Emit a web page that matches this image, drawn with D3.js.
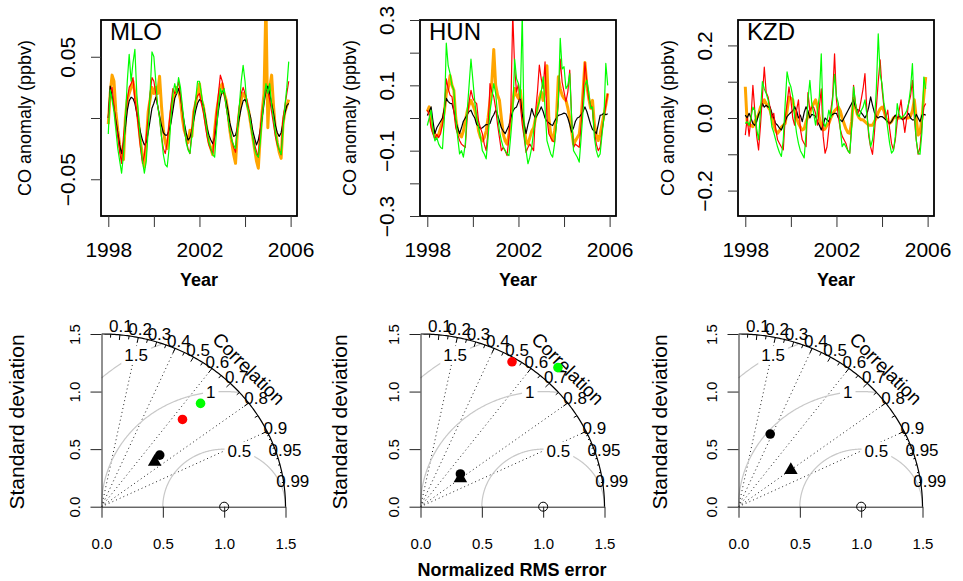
<!DOCTYPE html>
<html>
<head>
<meta charset="utf-8">
<script src="https://cdn.jsdelivr.net/npm/d3@7"></script>
<style>
body { margin: 0; background: #fff; }
</style>
</head>
<body>
<svg id="chart" width="963" height="581"></svg>
<script>
var FONT = "Liberation Sans, Arial, Helvetica, sans-serif"

// monthly CO anomalies, Jan 1998 .. Dec 2005 (black = obs, red / orange / green = models)
var mloBlack = [
    0.000, 0.026, 0.018, 0.008, -0.002, -0.012, -0.022, -0.029, -0.020, -0.008, 0.006, 0.014,
    0.017, 0.016, 0.012, 0.004, -0.004, -0.012, -0.018, -0.022, -0.020, -0.012, -0.002, 0.008,
    0.012, 0.017, 0.010, 0.002, -0.006, -0.012, -0.014, -0.014, -0.010, -0.004, 0.006, 0.016,
    0.020, 0.024, 0.018, 0.006, -0.004, -0.012, -0.018, -0.016, -0.010, -0.002, 0.006, 0.012,
    0.015, 0.014, 0.010, 0.002, -0.008, -0.014, -0.018, -0.021, -0.016, -0.006, 0.006, 0.016,
    0.022, 0.020, 0.014, 0.006, -0.004, -0.010, -0.015, -0.014, -0.008, 0.000, 0.008, 0.014,
    0.015, 0.012, 0.006, 0.000, -0.010, -0.016, -0.022, -0.018, -0.010, 0.000, 0.012, 0.022,
    0.026, 0.020, 0.012, 0.004, -0.006, -0.012, -0.015, -0.012, -0.004, 0.004, 0.010, 0.012]
var mloRed = [
    0.000, 0.020, 0.025, 0.010, -0.005, -0.015, -0.028, -0.037, -0.015, 0.000, 0.015, 0.025,
    0.028, 0.033, 0.015, 0.005, -0.010, -0.025, -0.037, -0.030, -0.015, 0.000, 0.020, 0.033,
    0.030, 0.020, 0.010, 0.000, -0.015, -0.025, -0.029, -0.020, -0.005, 0.010, 0.024, 0.020,
    0.022, 0.030, 0.020, 0.005, -0.010, -0.018, -0.025, -0.029, -0.010, 0.005, 0.015, 0.018,
    0.020, 0.012, 0.005, -0.005, -0.015, -0.022, -0.026, -0.029, -0.012, 0.005, 0.020, 0.035,
    0.030, 0.020, 0.010, 0.000, -0.010, -0.018, -0.024, -0.028, -0.005, 0.010, 0.020, 0.025,
    0.020, 0.015, 0.005, -0.005, -0.015, -0.022, -0.027, -0.032, -0.010, 0.005, 0.015, 0.025,
    0.022, 0.015, 0.005, -0.005, -0.015, -0.022, -0.026, -0.030, 0.000, 0.010, 0.020, 0.030]
var mloOrange = [
    -0.005, 0.020, 0.035, 0.030, 0.005, -0.010, -0.022, -0.030, -0.034, 0.000, 0.015, 0.020,
    0.025, 0.030, 0.020, 0.010, -0.005, -0.020, -0.030, -0.040, -0.020, 0.005, 0.015, 0.025,
    0.020, 0.025, 0.020, 0.034, 0.010, -0.010, -0.020, -0.025, -0.010, 0.005, 0.015, 0.020,
    0.025, 0.022, 0.015, 0.000, -0.010, -0.015, -0.020, -0.010, -0.015, 0.005, 0.012, 0.020,
    0.028, 0.015, 0.010, 0.000, -0.010, -0.020, -0.025, -0.030, -0.010, 0.005, 0.015, 0.025,
    0.028, 0.020, 0.015, 0.005, -0.010, -0.020, -0.030, -0.037, -0.010, 0.005, 0.015, 0.020,
    0.018, 0.012, 0.005, -0.005, -0.015, -0.025, -0.035, -0.041, -0.015, 0.005, 0.020, 0.095,
    -0.008, 0.025, 0.035, 0.010, -0.010, -0.020, -0.028, -0.033, -0.005, 0.005, 0.010, 0.015]
var mloGreen = [
    -0.013, 0.023, 0.015, 0.005, -0.010, -0.025, -0.035, -0.045, -0.030, 0.000, 0.030, 0.052,
    0.030, 0.045, 0.056, 0.020, 0.000, -0.020, -0.035, -0.045, -0.035, -0.010, 0.020, 0.054,
    0.050, 0.030, 0.010, 0.000, -0.015, -0.030, -0.038, -0.040, -0.025, 0.000, 0.020, 0.028,
    0.020, 0.033, 0.025, 0.010, -0.005, -0.020, -0.026, -0.029, -0.015, 0.000, 0.015, 0.030,
    0.030, 0.020, 0.010, 0.000, -0.010, -0.020, -0.025, -0.030, -0.032, -0.010, 0.010, 0.024,
    0.020, 0.024, 0.010, 0.000, -0.010, -0.018, -0.022, -0.025, -0.010, 0.010, 0.030, 0.043,
    0.030, 0.010, 0.005, -0.005, -0.015, -0.025, -0.030, -0.032, -0.020, 0.000, 0.015, 0.028,
    0.020, 0.028, 0.010, 0.000, -0.012, -0.020, -0.026, -0.030, -0.010, 0.010, 0.025, 0.046]

var hunBlack = [
    0.008, 0.020, 0.034, -0.010, -0.048, -0.030, -0.020, -0.010, 0.000, 0.030, 0.060, 0.050,
    0.045, 0.044, 0.020, -0.010, -0.030, -0.048, -0.030, -0.010, 0.000, 0.010, 0.020, 0.024,
    0.010, 0.000, -0.020, -0.025, -0.033, -0.030, -0.025, -0.020, -0.020, -0.017, 0.000, 0.010,
    0.024, 0.010, -0.010, -0.030, -0.040, -0.048, -0.035, -0.023, 0.000, 0.020, 0.030, 0.034,
    0.050, 0.065, 0.010, -0.020, -0.048, -0.020, 0.000, 0.029, 0.010, 0.000, 0.010, 0.020,
    0.034, 0.020, 0.000, -0.010, -0.015, -0.020, -0.023, -0.010, 0.000, 0.008, 0.010, 0.012,
    0.015, 0.013, 0.000, -0.020, -0.043, -0.030, -0.010, 0.000, 0.003, 0.010, 0.020, 0.034,
    0.020, 0.000, -0.020, -0.035, -0.040, -0.048, -0.020, 0.008, 0.010, 0.015, 0.010, 0.013]
var hunRed = [
    0.024, 0.010, -0.030, -0.050, -0.064, -0.050, -0.060, -0.048, -0.020, 0.020, 0.120, 0.090,
    0.070, 0.065, 0.020, -0.030, -0.050, -0.069, -0.080, -0.085, -0.090, 0.000, 0.050, 0.085,
    0.060, 0.050, 0.044, -0.010, -0.030, -0.048, -0.080, -0.100, -0.040, 0.105, 0.080, 0.065,
    0.030, -0.020, -0.060, -0.100, -0.090, -0.100, -0.115, -0.060, 0.030, 0.320, 0.150, 0.080,
    0.105, 0.040, -0.020, -0.060, -0.105, -0.090, -0.080, -0.090, -0.100, 0.020, 0.080, 0.162,
    0.120, 0.090, 0.172, 0.000, -0.048, -0.060, -0.070, -0.074, -0.020, 0.050, 0.180, 0.110,
    0.080, 0.050, 0.080, 0.147, 0.000, -0.090, -0.080, -0.085, -0.090, -0.020, 0.060, 0.170,
    0.110, 0.060, 0.040, 0.024, -0.040, -0.080, -0.100, -0.090, -0.040, 0.000, 0.040, 0.075]
var hunOrange = [
    0.020, 0.034, -0.010, -0.040, -0.050, -0.058, -0.050, -0.030, -0.010, 0.020, 0.075, 0.090,
    0.130, 0.100, 0.085, 0.000, -0.040, -0.050, -0.058, -0.040, -0.010, 0.020, 0.040, 0.054,
    0.040, 0.024, 0.000, -0.040, -0.060, -0.070, -0.060, -0.040, 0.000, 0.050, 0.110, 0.210,
    0.100, 0.070, 0.054, 0.000, -0.050, -0.070, -0.080, -0.050, 0.000, 0.050, 0.090, 0.070,
    0.060, 0.085, 0.020, -0.030, -0.070, -0.080, -0.060, -0.040, -0.030, 0.000, 0.030, 0.060,
    0.080, 0.054, 0.080, 0.160, 0.000, -0.050, -0.069, -0.040, 0.000, 0.126, 0.090, 0.070,
    0.060, 0.054, 0.030, 0.000, -0.040, -0.080, -0.070, -0.060, -0.050, 0.000, 0.080, 0.170,
    0.100, 0.060, 0.030, 0.054, -0.020, -0.050, -0.069, -0.050, -0.020, 0.010, 0.040, 0.075]
var hunGreen = [
    -0.023, 0.000, 0.024, -0.040, -0.070, -0.060, -0.080, -0.090, -0.094, 0.000, 0.229, 0.160,
    0.136, 0.100, 0.085, 0.000, -0.060, -0.110, -0.100, -0.120, -0.080, 0.020, 0.100, 0.180,
    0.116, 0.050, 0.000, -0.028, -0.060, -0.100, -0.110, -0.125, -0.060, 0.020, 0.060, 0.105,
    0.075, 0.010, -0.040, -0.069, -0.090, -0.100, -0.110, -0.115, -0.050, 0.020, 0.180, 0.120,
    0.105, 0.060, 0.320, -0.050, -0.100, -0.140, -0.120, -0.090, -0.040, 0.000, 0.030, 0.050,
    0.080, 0.126, 0.030, -0.069, -0.090, -0.110, -0.120, -0.080, -0.020, 0.050, 0.244, 0.150,
    0.157, 0.090, 0.100, 0.136, 0.000, -0.100, -0.110, -0.120, -0.135, -0.060, 0.020, 0.100,
    0.116, 0.080, 0.030, 0.034, -0.060, -0.100, -0.120, -0.110, -0.050, 0.000, 0.167, 0.100]

var kzdBlack = [
    0.008, 0.000, 0.013, 0.000, -0.015, -0.020, -0.010, 0.010, 0.020, 0.040, 0.030, 0.035,
    0.030, 0.031, 0.013, 0.000, -0.015, -0.020, -0.028, -0.033, -0.020, -0.010, 0.004, 0.010,
    0.015, 0.020, 0.031, 0.020, 0.000, 0.008, -0.010, 0.015, 0.031, 0.020, 0.000, 0.010,
    0.008, 0.005, -0.010, -0.020, -0.033, -0.020, 0.000, -0.005, -0.010, 0.005, 0.010, 0.013,
    0.013, 0.000, -0.005, -0.010, 0.000, 0.010, 0.020, 0.030, 0.040, 0.050, 0.030, 0.022,
    0.022, 0.015, 0.008, 0.000, 0.010, 0.030, 0.058, 0.035, 0.015, 0.004, 0.000, 0.004,
    0.004, 0.000, -0.005, -0.010, -0.015, -0.010, 0.000, 0.008, 0.000, 0.005, 0.000, -0.005,
    0.000, 0.005, 0.013, 0.000, -0.005, -0.005, 0.010, 0.000, -0.010, 0.008, 0.010, 0.008]
var kzdRed = [
    -0.047, 0.000, -0.050, 0.000, 0.090, 0.020, -0.050, -0.088, -0.020, 0.060, 0.140, 0.070,
    0.058, 0.030, 0.000, 0.013, -0.030, -0.060, -0.070, -0.080, -0.088, 0.000, 0.040, 0.086,
    0.050, 0.000, -0.020, 0.022, 0.050, -0.030, -0.060, -0.070, -0.079, 0.070, 0.020, 0.030,
    0.030, 0.013, -0.020, 0.030, 0.080, -0.050, -0.097, -0.080, -0.030, 0.020, 0.060, 0.177,
    0.050, 0.004, -0.030, -0.050, -0.060, -0.070, -0.090, -0.097, -0.020, 0.090, 0.040, 0.010,
    0.022, 0.050, 0.080, 0.122, 0.020, -0.050, -0.080, -0.100, -0.040, 0.030, 0.100, 0.160,
    0.080, 0.030, 0.000, 0.022, -0.030, -0.070, -0.088, -0.060, -0.010, 0.020, 0.050, 0.000,
    -0.040, 0.000, 0.040, 0.060, 0.104, 0.000, -0.060, -0.100, -0.080, -0.020, 0.030, 0.040]
var kzdOrange = [
    0.086, -0.015, -0.020, -0.020, -0.024, -0.010, 0.000, 0.010, 0.030, 0.040, 0.050, 0.040,
    0.030, 0.022, 0.000, -0.020, -0.035, -0.042, -0.035, -0.025, -0.020, -0.015, 0.020, 0.058,
    0.055, 0.050, 0.020, 0.000, -0.015, -0.025, -0.033, -0.030, -0.010, 0.005, 0.013, 0.030,
    0.040, 0.050, 0.030, 0.000, -0.020, -0.033, -0.030, -0.020, -0.015, 0.000, 0.010, 0.020,
    0.025, 0.030, 0.020, 0.000, -0.015, -0.030, -0.040, -0.042, -0.010, 0.054, 0.030, 0.010,
    0.000, -0.005, -0.005, -0.010, -0.015, -0.020, -0.020, -0.020, -0.010, 0.000, 0.015, 0.025,
    0.030, 0.020, 0.000, -0.010, -0.015, -0.010, 0.000, 0.004, 0.000, 0.000, 0.000, 0.000,
    0.000, 0.000, 0.000, 0.005, 0.020, 0.050, 0.000, -0.047, -0.040, 0.000, 0.060, 0.113]
var kzdGreen = [
    -0.015, -0.010, -0.020, 0.000, 0.030, 0.020, -0.030, -0.060, 0.020, 0.100, 0.080, 0.068,
    0.050, 0.020, -0.024, -0.040, -0.060, -0.080, -0.095, -0.106, -0.060, 0.040, 0.127, 0.100,
    0.086, 0.060, 0.000, -0.042, -0.070, -0.090, -0.100, -0.110, -0.040, 0.050, 0.104, 0.040,
    0.013, -0.020, 0.020, 0.060, 0.177, -0.010, -0.024, -0.010, 0.022, 0.000, 0.050, 0.120,
    0.060, 0.040, -0.030, -0.079, -0.070, -0.080, -0.090, -0.097, -0.030, 0.086, 0.040, 0.010,
    0.004, 0.020, 0.030, 0.050, 0.010, -0.040, -0.079, -0.060, -0.010, 0.080, 0.232, 0.120,
    0.095, 0.040, 0.013, -0.030, -0.070, -0.097, -0.090, -0.050, 0.040, 0.010, 0.000, 0.004,
    0.010, 0.020, 0.040, 0.080, 0.150, 0.020, -0.060, -0.097, -0.100, -0.040, 0.113, 0.080]

var sites = ["MLO", "HUN", "KZD"]
// drawing order: orange (thick) first, then black, red, green
var seriesColors = ["orange", "black", "red", "#00ff00"]
var seriesWidths = [3, 1.2, 1.2, 1.2]
var seriesBySite = [
    [mloOrange, mloBlack, mloRed, mloGreen],
    [hunOrange, hunBlack, hunRed, hunGreen],
    [kzdOrange, kzdBlack, kzdRed, kzdGreen]
]

var yearTicks = [1998, 2000, 2002, 2004, 2006]
var yearLabels = ["1998", "", "2002", "", "2006"]
var yDomains = [[-0.08, 0.08], [-0.3, 0.3], [-0.27, 0.27]]
var yTicks = [
    [-0.05, 0, 0.05],
    [-0.3, -0.2, -0.1, 0, 0.1, 0.2, 0.3],
    [-0.2, -0.1, 0, 0.1, 0.2]
]
var yLabels = [
    ["\u22120.05", "", "0.05"],
    ["\u22120.3", "", "\u22120.1", "", "0.1", "", "0.3"],
    ["\u22120.2", "", "0.0", "", "0.2"]
]

// Taylor diagrams: normalised standard deviation and correlation per site
var maxSd = 1.5
var sdTicks = [0, 0.5, 1, 1.5]
var obsSd = [0.653, 0.432, 0.682]
var obsCor = [0.727, 0.753, 0.379]
var triSd = [0.583, 0.408, 0.532]
var triCor = [0.744, 0.797, 0.802]
var redSd = [1.005, 1.463, null]
var redCor = [0.657, 0.510, null]
var greenSd = [1.207, 1.648, null]
var greenCor = [0.669, 0.680, null]
var corrLines = [0.2, 0.4, 0.6, 0.8, 0.9]
var corrBigTicks = [0.1, 0.2, 0.3, 0.4, 0.5, 0.6, 0.7, 0.8, 0.9]
var corrMedTicks = [0.05, 0.15, 0.25, 0.35, 0.45, 0.55, 0.65, 0.75, 0.85, 0.95]
var corrSmallTicks = [0.91, 0.92, 0.93, 0.94, 0.95, 0.96, 0.97, 0.98, 0.99]
var corrLabels = [0.1, 0.2, 0.3, 0.4, 0.5, 0.6, 0.7, 0.8, 0.9, 0.95, 0.99]
var rmsLevels = [0.5, 1, 1.5]
var rmsLabelAngles = [1.32, 1.68, 2.07]

// layout
var panelLeft = [101, 420, 738]
var boxTop = 20, boxBottom = 216, boxWidth = 196
var timeDomain = [1997.68, 2006.28]
var ylabOffset = [-70, -64, -64]
var taylorBase = 506.7, taylorW = 184, taylorH = 172.7
var sdLabOffset = [-78, -74, -72]

var months = d3.range(96).map(function (i) { return 1998 + i / 12 })

var svg = d3.select("#chart").style("font-family", FONT)
svg.append("rect").attr("width", 963).attr("height", 581).attr("fill", "white")

function rotateLeftLabels(axisG, offset) {
    axisG.selectAll(".tick text")
        .attr("x", 0).attr("dy", null).attr("text-anchor", "middle")
        .attr("transform", "translate(" + offset + ",0) rotate(-90)")
}

function drawSeriesPanel(k) {
    var left = panelLeft[k]
    var x = d3.scaleLinear().domain(timeDomain).range([left, left + boxWidth])
    var y = d3.scaleLinear().domain(yDomains[k]).range([boxBottom, boxTop])
    var g = svg.append("g")

    svg.append("clipPath").attr("id", "clip" + k)
        .append("rect").attr("x", left).attr("y", boxTop)
        .attr("width", boxWidth).attr("height", boxBottom - boxTop)

    var line = d3.line()
        .x(function (d, i) { return x(months[i]) })
        .y(function (d) { return y(d) })

    seriesBySite[k].forEach(function (vals, s) {
        g.append("path").attr("d", line(vals))
            .attr("fill", "none")
            .attr("stroke", seriesColors[s])
            .attr("stroke-width", seriesWidths[s])
            .attr("stroke-linejoin", "round")
            .attr("clip-path", "url(#clip" + k + ")")
    })

    g.append("rect").attr("x", left).attr("y", boxTop)
        .attr("width", boxWidth).attr("height", boxBottom - boxTop)
        .attr("fill", "none").attr("stroke", "black").attr("stroke-width", 1.8)

    var xa = g.append("g").attr("transform", "translate(0," + boxBottom + ")")
        .call(d3.axisBottom(x).tickValues(yearTicks).tickSize(11).tickPadding(15)
            .tickFormat(function (d, i) { return yearLabels[i] }))
    xa.select(".domain").remove()
    xa.attr("font-family", FONT).attr("font-size", 21)
    xa.selectAll(".tick line").attr("stroke", "#333")
    xa.selectAll(".tick text").attr("fill", "black")

    var ya = g.append("g").attr("transform", "translate(" + left + ",0)")
        .call(d3.axisLeft(y).tickValues(yTicks[k]).tickSize(10)
            .tickFormat(function (d, i) { return yLabels[k][i] }))
    ya.select(".domain").remove()
    ya.attr("font-family", FONT).attr("font-size", 21)
    ya.selectAll(".tick line").attr("stroke", "#333")
    ya.selectAll(".tick text").attr("fill", "black")
    rotateLeftLabels(ya, -26)

    g.append("text").attr("x", left + 9).attr("y", 40)
        .attr("font-size", 24).text(sites[k])

    g.append("text").attr("x", left + boxWidth / 2).attr("y", 286)
        .attr("text-anchor", "middle").attr("font-size", 18).attr("font-weight", "bold")
        .text("Year")

    g.append("text")
        .attr("transform", "translate(" + (left + ylabOffset[k]) + "," + (boxTop + boxBottom) / 2 + ") rotate(-90)")
        .attr("text-anchor", "middle").attr("font-size", 18)
        .text("CO anomaly (ppbv)")
}

function drawTaylor(k) {
    var ox = panelLeft[k] + 0.5
    var sx = d3.scaleLinear().domain([0, maxSd]).range([ox, ox + taylorW])
    var sy = d3.scaleLinear().domain([0, maxSd]).range([taylorBase, taylorBase - taylorH])
    var g = svg.append("g")
    var polar = function (r, a) { return [sx(r * Math.cos(a)), sy(r * Math.sin(a))] }

    // dotted correlation rays
    corrLines.forEach(function (c) {
        var p = polar(maxSd, Math.acos(c))
        g.append("line").attr("x1", sx(0)).attr("y1", sy(0)).attr("x2", p[0]).attr("y2", p[1])
            .attr("stroke", "#222").attr("stroke-width", 1).attr("stroke-dasharray", "1,3")
    })

    // centred RMS arcs around the reference point
    var arcLine = d3.line().x(function (p) { return sx(p[0]) }).y(function (p) { return sy(p[1]) })
    rmsLevels.forEach(function (gm) {
        var pts = d3.range(0, Math.PI + 0.005, 0.01)
            .map(function (a) { return [1 + gm * Math.cos(a), gm * Math.sin(a)] })
            .filter(function (p) { return p[0] >= 0 && p[0] * p[0] + p[1] * p[1] <= maxSd * maxSd + 1e-9 })
        g.append("path").attr("d", arcLine(pts)).attr("fill", "none")
            .attr("stroke", "#c8c8c8").attr("stroke-width", 1.2)
    })
    rmsLevels.forEach(function (gm, j) {
        var a = rmsLabelAngles[j]
        var cx = sx(1 + gm * Math.cos(a)), cy = sy(gm * Math.sin(a))
        var lg = g.append("g")
        var t = lg.append("text").attr("x", cx).attr("y", cy + 6)
            .attr("text-anchor", "middle").attr("font-size", 17).text(String(gm))
        var bb = t.node().getBBox()
        lg.insert("rect", "text").attr("x", bb.x - 3).attr("y", cy - 9)
            .attr("width", bb.width + 6).attr("height", 18).attr("fill", "white")
    })

    // outer correlation arc and its ticks
    var outer = d3.range(0, Math.PI / 2 + 0.005, 0.01).map(function (a) { return [maxSd * Math.cos(a), maxSd * Math.sin(a)] })
    g.append("path").attr("d", arcLine(outer)).attr("fill", "none").attr("stroke", "black").attr("stroke-width", 1.2)
    var tickSet = function (vals, frac) {
        vals.forEach(function (c) {
            var a = Math.acos(c), p1 = polar(maxSd, a), p2 = polar(maxSd * frac, a)
            g.append("line").attr("x1", p1[0]).attr("y1", p1[1]).attr("x2", p2[0]).attr("y2", p2[1])
                .attr("stroke", "black").attr("stroke-width", 1)
        })
    }
    tickSet(corrBigTicks, 0.97)
    tickSet(corrMedTicks, 0.98)
    tickSet(corrSmallTicks, 0.99)

    corrLabels.forEach(function (c) {
        var p = polar(maxSd * 1.05, Math.acos(c))
        g.append("text").attr("x", p[0]).attr("y", p[1] + 6)
            .attr("text-anchor", "middle").attr("font-size", 17).text(String(c))
    })
    g.append("text")
        .attr("transform", "translate(" + sx(maxSd * 0.8) + "," + sy(maxSd * 0.8) + ") rotate(45)")
        .attr("text-anchor", "middle").attr("dy", "0.35em").attr("font-size", 19)
        .text("Correlation")

    // axes
    var xa = g.append("g").attr("transform", "translate(0," + taylorBase + ")")
        .call(d3.axisBottom(sx).tickValues(sdTicks).tickSize(11).tickSizeOuter(0).tickPadding(21)
            .tickFormat(d3.format(".1f")))
    xa.attr("font-family", FONT).attr("font-size", 15)
    xa.selectAll("line, path").attr("stroke", "#222")
    xa.selectAll(".tick text").attr("fill", "black")

    var ya = g.append("g").attr("transform", "translate(" + ox + ",0)")
        .call(d3.axisLeft(sy).tickValues(sdTicks).tickSize(11).tickSizeOuter(0)
            .tickFormat(d3.format(".1f")))
    ya.attr("font-family", FONT).attr("font-size", 15)
    ya.selectAll("line, path").attr("stroke", "#222")
    ya.selectAll(".tick text").attr("fill", "black")
    rotateLeftLabels(ya, -22)

    g.append("text")
        .attr("transform", "translate(" + (ox + sdLabOffset[k]) + "," + 422 + ") rotate(-90)")
        .attr("text-anchor", "middle").attr("font-size", 21)
        .text("Standard deviation")

    // reference point
    g.append("circle").attr("cx", sx(1)).attr("cy", sy(0)).attr("r", 4.5)
        .attr("fill", "none").attr("stroke", "black").attr("stroke-width", 1)

    var place = function (sd, cor) { return polar(sd, Math.acos(cor)) }
    var dots = [
        { sd: redSd[k], cor: redCor[k], color: "red" },
        { sd: greenSd[k], cor: greenCor[k], color: "#00ff00" }
    ]
    var p = place(triSd[k], triCor[k])
    g.append("path").attr("d", d3.symbol().type(d3.symbolTriangle).size(80)())
        .attr("transform", "translate(" + p[0] + "," + p[1] + ")").attr("fill", "black")
    p = place(obsSd[k], obsCor[k])
    g.append("circle").attr("cx", p[0]).attr("cy", p[1]).attr("r", 4.8).attr("fill", "black")
    dots.forEach(function (d) {
        if (d.sd == null) return
        var q = place(d.sd, d.cor)
        g.append("circle").attr("cx", q[0]).attr("cy", q[1]).attr("r", 4.8).attr("fill", d.color)
    })
}

for (var k = 0; k < 3; k++) {
    drawSeriesPanel(k)
    drawTaylor(k)
}

svg.append("text").attr("x", 512).attr("y", 576)
    .attr("text-anchor", "middle").attr("font-size", 18).attr("font-weight", "bold")
    .text("Normalized RMS error")
</script>
</body>
</html>
